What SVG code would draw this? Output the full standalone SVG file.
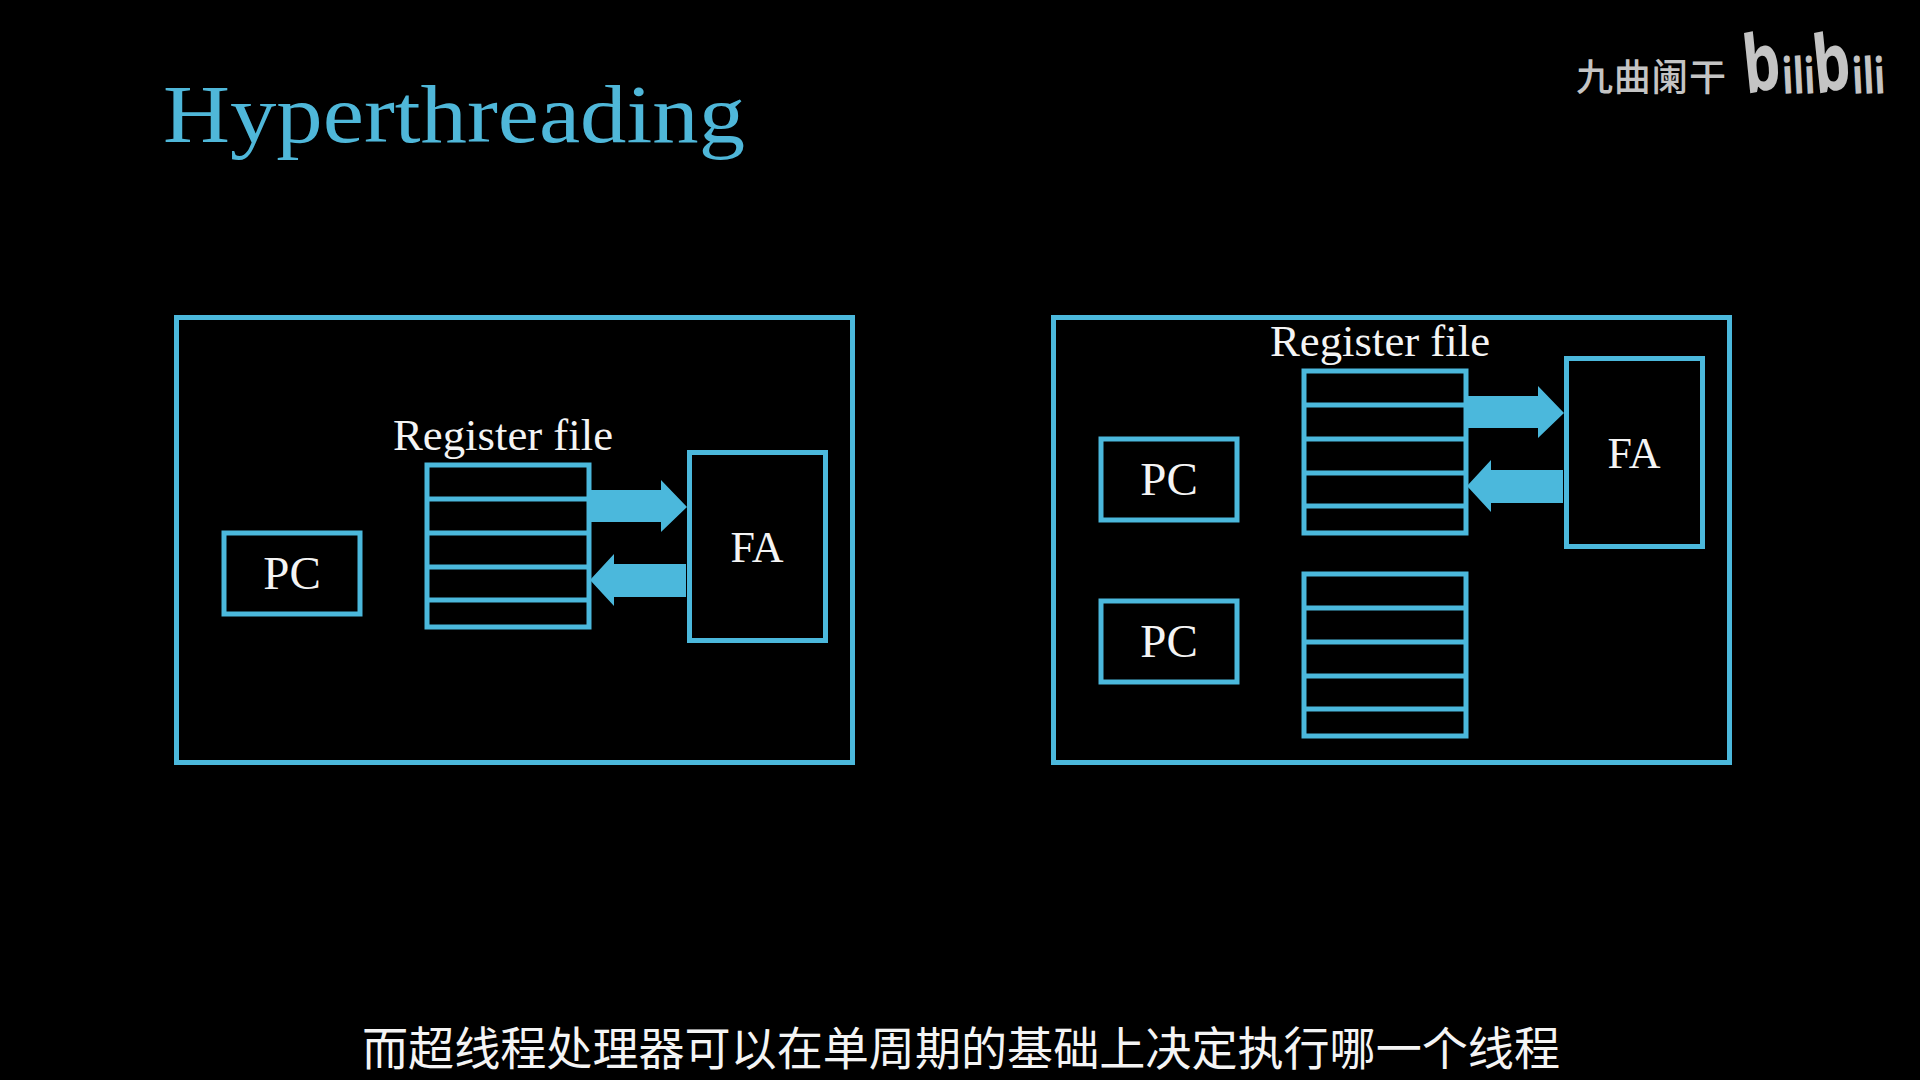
<svg xmlns="http://www.w3.org/2000/svg" width="1920" height="1080" viewBox="0 0 1920 1080">
<style>
.box{fill:none;stroke:#4bb8dc;stroke-width:5}
.ln{stroke:#4bb8dc;stroke-width:5}
.arr{fill:#4bb8dc}
.t{font-family:"Liberation Serif","Times New Roman",serif;fill:#f4f4f4;font-size:44px}
.pc{font-size:47px}
</style>
<defs>
<g id="reg">
<rect class="box" x="0" y="0" width="162" height="162"/>
<path class="ln" d="M0 34H162M0 68H162M0 102H162M0 135H162"/>
</g>
</defs>
<rect width="1920" height="1080" fill="#000"/>
<text id="title" x="163" y="142" font-size="83" textLength="582" lengthAdjust="spacingAndGlyphs" style="font-family:'Liberation Serif',serif;fill:#4fb7d9">Hyperthreading</text>
<g id="watermark" fill="#c4c4c4">
<text x="1576" y="91" font-size="37" font-weight="500" textLength="150" style="font-family:'Noto Sans CJK SC',sans-serif">九曲阑干</text>
<text x="1746" y="94" font-weight="700" textLength="140" lengthAdjust="spacingAndGlyphs" style="font-family:'Noto Sans',sans-serif"><tspan font-size="80" rotate="-8">b</tspan><tspan font-size="50" rotate="-4">ili</tspan><tspan font-size="80" rotate="-8">b</tspan><tspan font-size="50" rotate="-4">ili</tspan></text>
</g>
<g id="left-cpu"><rect class="box" x="176.500" y="317.500" width="676" height="445"/></g>
<g id="left-pc"><rect class="box" x="224" y="533" width="136" height="81"/><text class="t pc" x="292" y="589" text-anchor="middle">PC</text></g>
<g id="left-regfile"><text class="t" x="393" y="450" textLength="220" lengthAdjust="spacingAndGlyphs">Register file</text><use href="#reg" x="427" y="465"/></g>
<g id="left-fa"><rect class="box" x="689.500" y="452.500" width="136" height="188"/><text class="t" x="757" y="562" text-anchor="middle">FA</text></g>
<g id="right-cpu"><rect class="box" x="1053.500" y="317.500" width="676" height="445"/></g>
<g id="right-pc1"><rect class="box" x="1101" y="439" width="136" height="81"/><text class="t pc" x="1169" y="495" text-anchor="middle">PC</text></g>
<g id="right-pc2"><rect class="box" x="1101" y="601" width="136" height="81"/><text class="t pc" x="1169" y="657" text-anchor="middle">PC</text></g>
<g id="right-regfile1"><text class="t" x="1270" y="356" textLength="220" lengthAdjust="spacingAndGlyphs">Register file</text><use href="#reg" x="1304" y="371"/></g>
<g id="right-regfile2"><use href="#reg" x="1304" y="574"/></g>
<g id="right-fa"><rect class="box" x="1566.500" y="358.500" width="136" height="188"/><text class="t" x="1634" y="468" text-anchor="middle">FA</text></g>
<g id="connectors">
<path class="arr" d="M591 490H661V480L687 507L661 532V522H591Z"/>
<path class="arr" d="M686 564H614V554L590 580L614 606V597H686Z"/>
<path class="arr" d="M1468 396H1538V386L1564 413L1538 438V428H1468Z"/>
<path class="arr" d="M1563 470H1491V460L1467 486L1491 512V503H1563Z"/>
</g>
<text id="subtitle" x="362" y="1065" font-size="46" font-weight="400" textLength="1198" lengthAdjust="spacingAndGlyphs" style="font-family:'Noto Sans CJK SC',sans-serif;fill:#f4f4f4">而超线程处理器可以在单周期的基础上决定执行哪一个线程</text>
</svg>
